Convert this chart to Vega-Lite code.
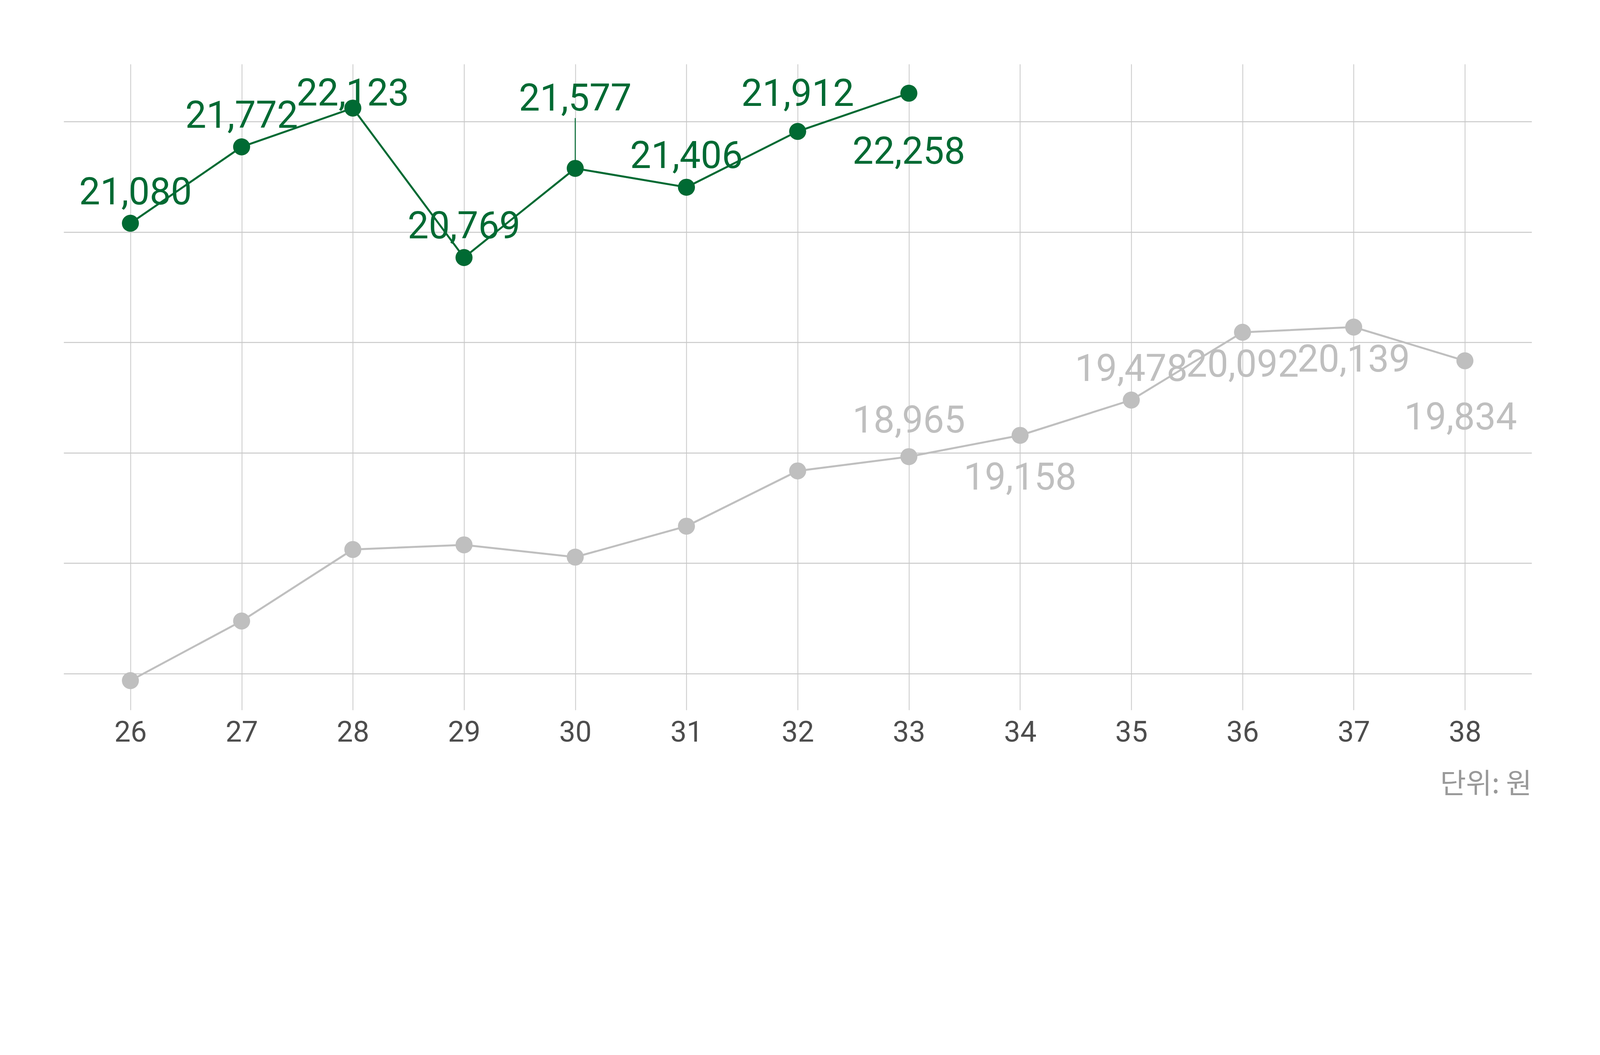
{
  "$schema": "https://vega.github.io/schema/vega-lite/v6.json",
  "description": "Weekly price lines, current vs previous season (unit: won).",
  "width": 3758,
  "height": 1653,
  "autosize": {"type": "none"},
  "padding": {"left": 163, "top": 164, "right": 166, "bottom": 390},
  "background": "#ffffff",
  "config": {"view": {"stroke": null}},
  "data": {
    "values": [
      {"week": 26, "series": "current", "value": 21080},
      {"week": 27, "series": "current", "value": 21772},
      {"week": 28, "series": "current", "value": 22123},
      {"week": 29, "series": "current", "value": 20769},
      {"week": 30, "series": "current", "value": 21577},
      {"week": 31, "series": "current", "value": 21406},
      {"week": 32, "series": "current", "value": 21912},
      {"week": 33, "series": "current", "value": 22258},
      {"week": 26, "series": "previous", "value": 16936},
      {"week": 27, "series": "previous", "value": 17476},
      {"week": 28, "series": "previous", "value": 18124},
      {"week": 29, "series": "previous", "value": 18166},
      {"week": 30, "series": "previous", "value": 18055},
      {"week": 31, "series": "previous", "value": 18335},
      {"week": 32, "series": "previous", "value": 18836},
      {"week": 33, "series": "previous", "value": 18965},
      {"week": 34, "series": "previous", "value": 19158},
      {"week": 35, "series": "previous", "value": 19478},
      {"week": 36, "series": "previous", "value": 20092},
      {"week": 37, "series": "previous", "value": 20139},
      {"week": 38, "series": "previous", "value": 19834}
    ]
  },
  "encoding": {
    "x": {
      "field": "week",
      "type": "ordinal",
      "scale": {"type": "point", "padding": 0.6},
      "axis": {
        "labelAngle": 0,
        "labelFont": "Roboto",
        "labelFontSize": 74,
        "labelColor": "#4d4d4d",
        "labelPadding": 22,
        "ticks": false,
        "domain": false,
        "grid": true,
        "gridColor": "#c8c8c8",
        "gridWidth": 2,
        "title": "단위: 원",
        "titleFont": "Noto Sans CJK KR",
        "titleFontSize": 72,
        "titleFontWeight": "normal",
        "titleColor": "#999999",
        "titleAnchor": "end",
        "titleAlign": "right",
        "titlePadding": 60
      }
    },
    "y": {
      "field": "value",
      "type": "quantitative",
      "scale": {"domain": [16670, 22522], "nice": false, "zero": false},
      "axis": {
        "values": [17000, 18000, 19000, 20000, 21000, 22000],
        "labels": false,
        "ticks": false,
        "domain": false,
        "grid": true,
        "gridColor": "#c8c8c8",
        "gridWidth": 2.5,
        "title": null
      }
    },
    "color": {
      "field": "series",
      "type": "nominal",
      "scale": {"domain": ["current", "previous"], "range": ["#006a33", "#bfbfbf"]},
      "legend": null
    }
  },
  "layer": [
    {"mark": {"type": "line", "strokeWidth": 5}},
    {
      "transform": [{"filter": "datum.series == 'current' && datum.week == 30"}],
      "mark": {"type": "rule", "strokeWidth": 2.5},
      "encoding": {"y2": {"datum": 22033}}
    },
    {"mark": {"type": "point", "filled": true, "opacity": 1, "size": 1900}},
    {
      "transform": [{"filter": "(datum.series == 'current' && indexof([27, 29, 31], datum.week) >= 0) || (datum.series == 'previous' && datum.week == 35)"}],
      "mark": {"type": "text", "font": "Roboto", "fontSize": 96, "baseline": "alphabetic", "dy": -49},
      "encoding": {"text": {"field": "value", "format": ",d"}}
    },
    {
      "transform": [{"filter": "datum.series == 'current' && datum.week == 26"}],
      "mark": {"type": "text", "font": "Roboto", "fontSize": 96, "baseline": "alphabetic", "dy": -48, "dx": 13},
      "encoding": {"text": {"field": "value", "format": ",d"}}
    },
    {
      "transform": [{"filter": "datum.series == 'current' && datum.week == 28"}],
      "mark": {"type": "text", "font": "Roboto", "fontSize": 96, "baseline": "alphabetic", "dy": -7},
      "encoding": {"text": {"field": "value", "format": ",d"}}
    },
    {
      "transform": [{"filter": "datum.series == 'current' && datum.week == 30"}],
      "mark": {"type": "text", "font": "Roboto", "fontSize": 96, "baseline": "alphabetic", "dy": -148},
      "encoding": {"text": {"field": "value", "format": ",d"}}
    },
    {
      "transform": [{"filter": "datum.series == 'current' && datum.week == 32"}],
      "mark": {"type": "text", "font": "Roboto", "fontSize": 96, "baseline": "alphabetic", "dy": -65},
      "encoding": {"text": {"field": "value", "format": ",d"}}
    },
    {
      "transform": [{"filter": "datum.series == 'current' && datum.week == 33"}],
      "mark": {"type": "text", "font": "Roboto", "fontSize": 96, "baseline": "alphabetic", "dy": 180},
      "encoding": {"text": {"field": "value", "format": ",d"}}
    },
    {
      "transform": [{"filter": "datum.series == 'previous' && datum.week == 33"}],
      "mark": {"type": "text", "font": "Roboto", "fontSize": 96, "baseline": "alphabetic", "dy": -62},
      "encoding": {"text": {"field": "value", "format": ",d"}}
    },
    {
      "transform": [{"filter": "datum.series == 'previous' && datum.week == 34"}],
      "mark": {"type": "text", "font": "Roboto", "fontSize": 96, "baseline": "alphabetic", "dy": 139},
      "encoding": {"text": {"field": "value", "format": ",d"}}
    },
    {
      "transform": [{"filter": "datum.series == 'previous' && (datum.week == 36 || datum.week == 37)"}],
      "mark": {"type": "text", "font": "Roboto", "fontSize": 96, "baseline": "alphabetic", "dy": 114},
      "encoding": {"text": {"field": "value", "format": ",d"}}
    },
    {
      "transform": [{"filter": "datum.series == 'previous' && datum.week == 38"}],
      "mark": {"type": "text", "font": "Roboto", "fontSize": 96, "baseline": "alphabetic", "dy": 176, "dx": -11},
      "encoding": {"text": {"field": "value", "format": ",d"}}
    }
  ]
}
